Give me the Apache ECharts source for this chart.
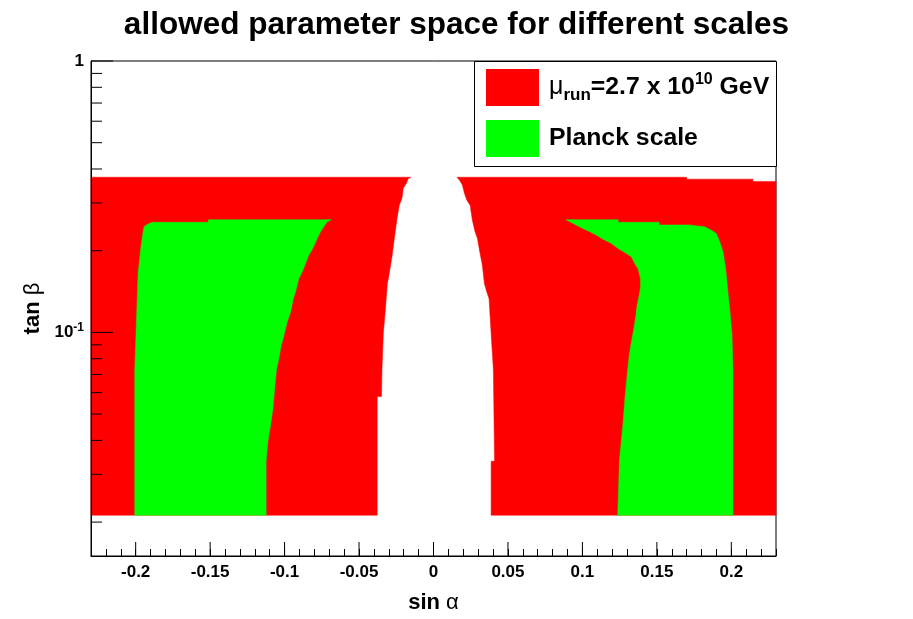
<!DOCTYPE html>
<html>
<head>
  <meta charset="utf-8"/>
  <title>allowed parameter space</title>
  <script src="https://cdn.jsdelivr.net/npm/echarts/dist/echarts.min.js"></script>
  <style>
    html, body { margin: 0; padding: 0; background: #fff; }
    #chart { width: 913px; height: 619px; }
  </style>
</head>
<body>
<div id="chart"></div>
<script>
  // axis range
  var xMin = -0.23, xMax = 0.23;
  var yMin = 0.015, yMax = 1;

  // mu_run region (red): top / bottom of the scanned tan(beta) band
  var redTop = 0.373;
  var redBottom = 0.0212;
  // inner edge of left red region, [sin a, tan b], top -> bottom
  var redLeftEdge = [
    [-0.0152, 0.373], [-0.0170, 0.368], [-0.0183, 0.354], [-0.0203, 0.340],
    [-0.0212, 0.312], [-0.0230, 0.294], [-0.0245, 0.263], [-0.0263, 0.222],
    [-0.0279, 0.190], [-0.0297, 0.165], [-0.0310, 0.151], [-0.0324, 0.120],
    [-0.0337, 0.099], [-0.0346, 0.073], [-0.0349, 0.058], [-0.0378, 0.058],
    [-0.0378, 0.0212]
  ];
  // top edge of right red region, left -> right
  var redRightTop = [
    [0.0157, 0.373], [0.170, 0.373], [0.170, 0.367], [0.2145, 0.367],
    [0.2145, 0.360], [0.23, 0.360]
  ];
  // inner edge of right red region, top -> bottom
  var redRightEdge = [
    [0.0157, 0.373], [0.0174, 0.364], [0.0194, 0.349], [0.0208, 0.325],
    [0.0224, 0.307], [0.0246, 0.294], [0.0261, 0.259], [0.0279, 0.235],
    [0.0295, 0.222], [0.0313, 0.195], [0.0328, 0.177], [0.0342, 0.151],
    [0.0358, 0.141], [0.0373, 0.133], [0.0387, 0.099], [0.0402, 0.073],
    [0.0410, 0.0335], [0.0387, 0.0335], [0.0387, 0.0212]
  ];

  // Planck scale region (green)
  var greenLeftTop = [
    [-0.1892, 0.2545], [-0.1512, 0.2545], [-0.1512, 0.2602], [-0.0686, 0.2602]
  ];
  var greenLeftOuter = [
    [-0.1892, 0.2545], [-0.1926, 0.249], [-0.1944, 0.2449], [-0.1954, 0.2280],
    [-0.1966, 0.2036], [-0.1984, 0.1645], [-0.1995, 0.1090], [-0.2006, 0.0732],
    [-0.2006, 0.0212]
  ];
  var greenLeftInner = [
    [-0.0686, 0.2602], [-0.0714, 0.2556], [-0.0737, 0.2449], [-0.0759, 0.2347],
    [-0.0781, 0.2216], [-0.0811, 0.2036], [-0.0838, 0.1923], [-0.0860, 0.1791],
    [-0.0882, 0.1669], [-0.0905, 0.1576], [-0.0927, 0.1407], [-0.0942, 0.1329],
    [-0.0960, 0.1187], [-0.0983, 0.1090], [-0.1005, 0.0972], [-0.1023, 0.0893],
    [-0.1039, 0.0797], [-0.1054, 0.0732], [-0.1064, 0.0644], [-0.1079, 0.0521],
    [-0.1095, 0.0452], [-0.1112, 0.0397], [-0.1124, 0.0335], [-0.1124, 0.0212]
  ];
  var greenRightTop = [
    [0.0889, 0.2602], [0.1240, 0.2602], [0.1240, 0.2545], [0.1515, 0.2545],
    [0.1515, 0.2488], [0.1716, 0.2488]
  ];
  var greenRightOuter = [
    [0.1821, 0.2449], [0.1866, 0.2379], [0.1899, 0.2312], [0.1922, 0.2156],
    [0.1944, 0.1979], [0.1962, 0.1717], [0.1977, 0.1407], [0.1989, 0.1221],
    [0.2004, 0.0986], [0.2011, 0.0732], [0.2011, 0.0212]
  ];
  var greenRightInner = [
    [0.0889, 0.2602], [0.0938, 0.2519], [0.0995, 0.2427], [0.1050, 0.2347],
    [0.1095, 0.2280], [0.1139, 0.2203], [0.1196, 0.2124], [0.1240, 0.2036],
    [0.1296, 0.1951], [0.1330, 0.1896], [0.1352, 0.1791], [0.1374, 0.1717],
    [0.1390, 0.1576], [0.1390, 0.1468], [0.1381, 0.1367], [0.1367, 0.1256],
    [0.1359, 0.1153], [0.1345, 0.1029], [0.1330, 0.0932], [0.1314, 0.0820],
    [0.1302, 0.0712], [0.1287, 0.0583], [0.1272, 0.0458], [0.1249, 0.0340],
    [0.1237, 0.0212]
  ];

  // ticks
  var xMajorTicks = [-0.2, -0.15, -0.1, -0.05, 0, 0.05, 0.1, 0.15, 0.2];
  var yMajorTicks = [0.1, 1];
  var yMinorTicks = [0.02, 0.03, 0.04, 0.05, 0.06, 0.07, 0.08, 0.09,
                     0.2, 0.3, 0.4, 0.5, 0.6, 0.7, 0.8, 0.9];

  var redName = 'mu_run';
  var greenName = 'Planck scale';
  var FONT = 'Liberation Sans';

  // build polygons
  var redPolys = [
    [[xMin, redBottom], [xMin, redTop]].concat(redLeftEdge),
    redRightTop.concat([[xMax, redBottom]], redRightEdge.slice().reverse())
  ];
  var greenPolys = [
    greenLeftOuter.slice().reverse().concat(greenLeftTop, greenLeftInner),
    greenRightTop.concat(greenRightOuter, greenRightInner.slice().reverse())
  ];

  function polySeries(name, polys, color, z) {
    return {
      name: name,
      type: 'custom',
      z: z,
      itemStyle: {color: color},
      data: polys.map(function (p, i) { return [p[0][0], p[0][1], i]; }),
      renderItem: function (params, api) {
        var pts = polys[params.dataIndex].map(function (p) { return api.coord(p); });
        return {
          type: 'polygon',
          shape: {points: pts},
          style: {fill: color, stroke: color, lineWidth: 0.5}
        };
      },
      silent: true
    };
  }

  function tickSeries(data, dx, dy) {
    return {
      type: 'custom',
      z: 6,
      silent: true,
      data: data,
      renderItem: function (params, api) {
        var p = api.coord([api.value(0), api.value(1)]);
        return {
          type: 'line',
          shape: {x1: p[0], y1: p[1], x2: p[0] + dx, y2: p[1] + dy},
          style: {stroke: '#000', lineWidth: 1}
        };
      }
    };
  }

  var chart = echarts.init(document.getElementById('chart'));
  chart.setOption({
    animation: false,
    backgroundColor: '#fff',
    title: {
      text: 'allowed parameter space for different scales',
      left: 'center',
      top: 4,
      textStyle: {fontFamily: FONT, fontWeight: 'bold', fontSize: 31.5, color: '#000'}
    },
    grid: {
      left: 91, right: 137, top: 61, bottom: 55,
      show: true, borderColor: '#000', borderWidth: 1, backgroundColor: 'transparent'
    },
    graphic: [{
      type: 'rect',
      left: 474, top: 61,
      shape: {width: 302, height: 105},
      style: {fill: '#fff', stroke: '#000', lineWidth: 1}
    }],
    legend: {
      data: [redName, greenName],
      orient: 'vertical',
      left: 486, top: 69,
      padding: 0,
      itemWidth: 53, itemHeight: 37, itemGap: 14,
      icon: 'rect',
      selectedMode: false,
      formatter: function (name) {
        if (name === redName) {
          return '{g|\u03bc}{sub|run}{t|=2.7 x 10}{sup|10}{t| GeV}';
        }
        return '{t|Planck scale}';
      },
      textStyle: {
        padding: [0, 0, 0, 5],
        rich: {
          t: {fontFamily: FONT, fontWeight: 'bold', fontSize: 24.8, color: '#000', lineHeight: 32},
          g: {fontFamily: FONT, fontWeight: 'normal', fontSize: 25, color: '#000', lineHeight: 32},
          sub: {fontFamily: FONT, fontWeight: 'bold', fontSize: 17, color: '#000', verticalAlign: 'bottom', lineHeight: 32, padding: [15, 0, 0, 0]},
          sup: {fontFamily: FONT, fontWeight: 'bold', fontSize: 16, color: '#000', verticalAlign: 'top', lineHeight: 32, padding: [0, 0, 14, 0]}
        }
      }
    },
    xAxis: {
      type: 'value',
      min: xMin, max: xMax, interval: 0.01,
      z: 5,
      splitLine: {show: false},
      axisLine: {onZero: false, lineStyle: {color: '#000', width: 1}},
      axisTick: {inside: true, length: 7, lineStyle: {color: '#000'}},
      axisLabel: {
        interval: 0, margin: 8,
        fontFamily: FONT, fontWeight: 'bold', fontSize: 17, color: '#000',
        formatter: function (v) {
          var k = Math.round(v * 100);
          if (k % 5 !== 0 || Math.abs(k) > 20) return '';
          return String(k / 100);
        }
      },
      name: '{b|sin }{g|\u03b1}',
      nameLocation: 'middle',
      nameGap: 36,
      nameTextStyle: {
        rich: {
          b: {fontFamily: FONT, fontWeight: 'bold', fontSize: 22, color: '#000'},
          g: {fontFamily: FONT, fontWeight: 'normal', fontSize: 22, color: '#000'}
        }
      }
    },
    yAxis: {
      type: 'log',
      min: yMin, max: yMax,
      z: 5,
      splitLine: {show: false},
      axisLine: {onZero: false, lineStyle: {color: '#000', width: 1}},
      axisTick: {show: false},
      axisLabel: {
        margin: 7,
        formatter: function (v) {
          if (Math.abs(v - 1) < 1e-9) return '{n|1}';
          if (Math.abs(Math.log10(v) + 1) < 1e-6) return '{n|10}{sup|-1}';
          return '';
        },
        rich: {
          n: {fontFamily: FONT, fontWeight: 'bold', fontSize: 17, color: '#000', lineHeight: 22},
          sup: {fontFamily: FONT, fontWeight: 'bold', fontSize: 12, color: '#000', verticalAlign: 'top', lineHeight: 22, padding: [0, 0, 9, 0]}
        }
      },
      name: '{b|tan }{g|\u03b2}',
      nameLocation: 'middle',
      nameGap: 35,
      nameTextStyle: {
        rich: {
          b: {fontFamily: FONT, fontWeight: 'bold', fontSize: 22, color: '#000'},
          g: {fontFamily: FONT, fontWeight: 'normal', fontSize: 22, color: '#000'}
        }
      }
    },
    series: [
      polySeries(redName, redPolys, '#ff0000', 2),
      polySeries(greenName, greenPolys, '#00ff00', 3),
      tickSeries(yMinorTicks.map(function (v) { return [xMin, v]; }), 11, 0),
      tickSeries(yMajorTicks.map(function (v) { return [xMin, v]; }), 22, 0),
      tickSeries(xMajorTicks.map(function (v) { return [v, yMin]; }), 0, -14)
    ]
  });
</script>
</body>
</html>
